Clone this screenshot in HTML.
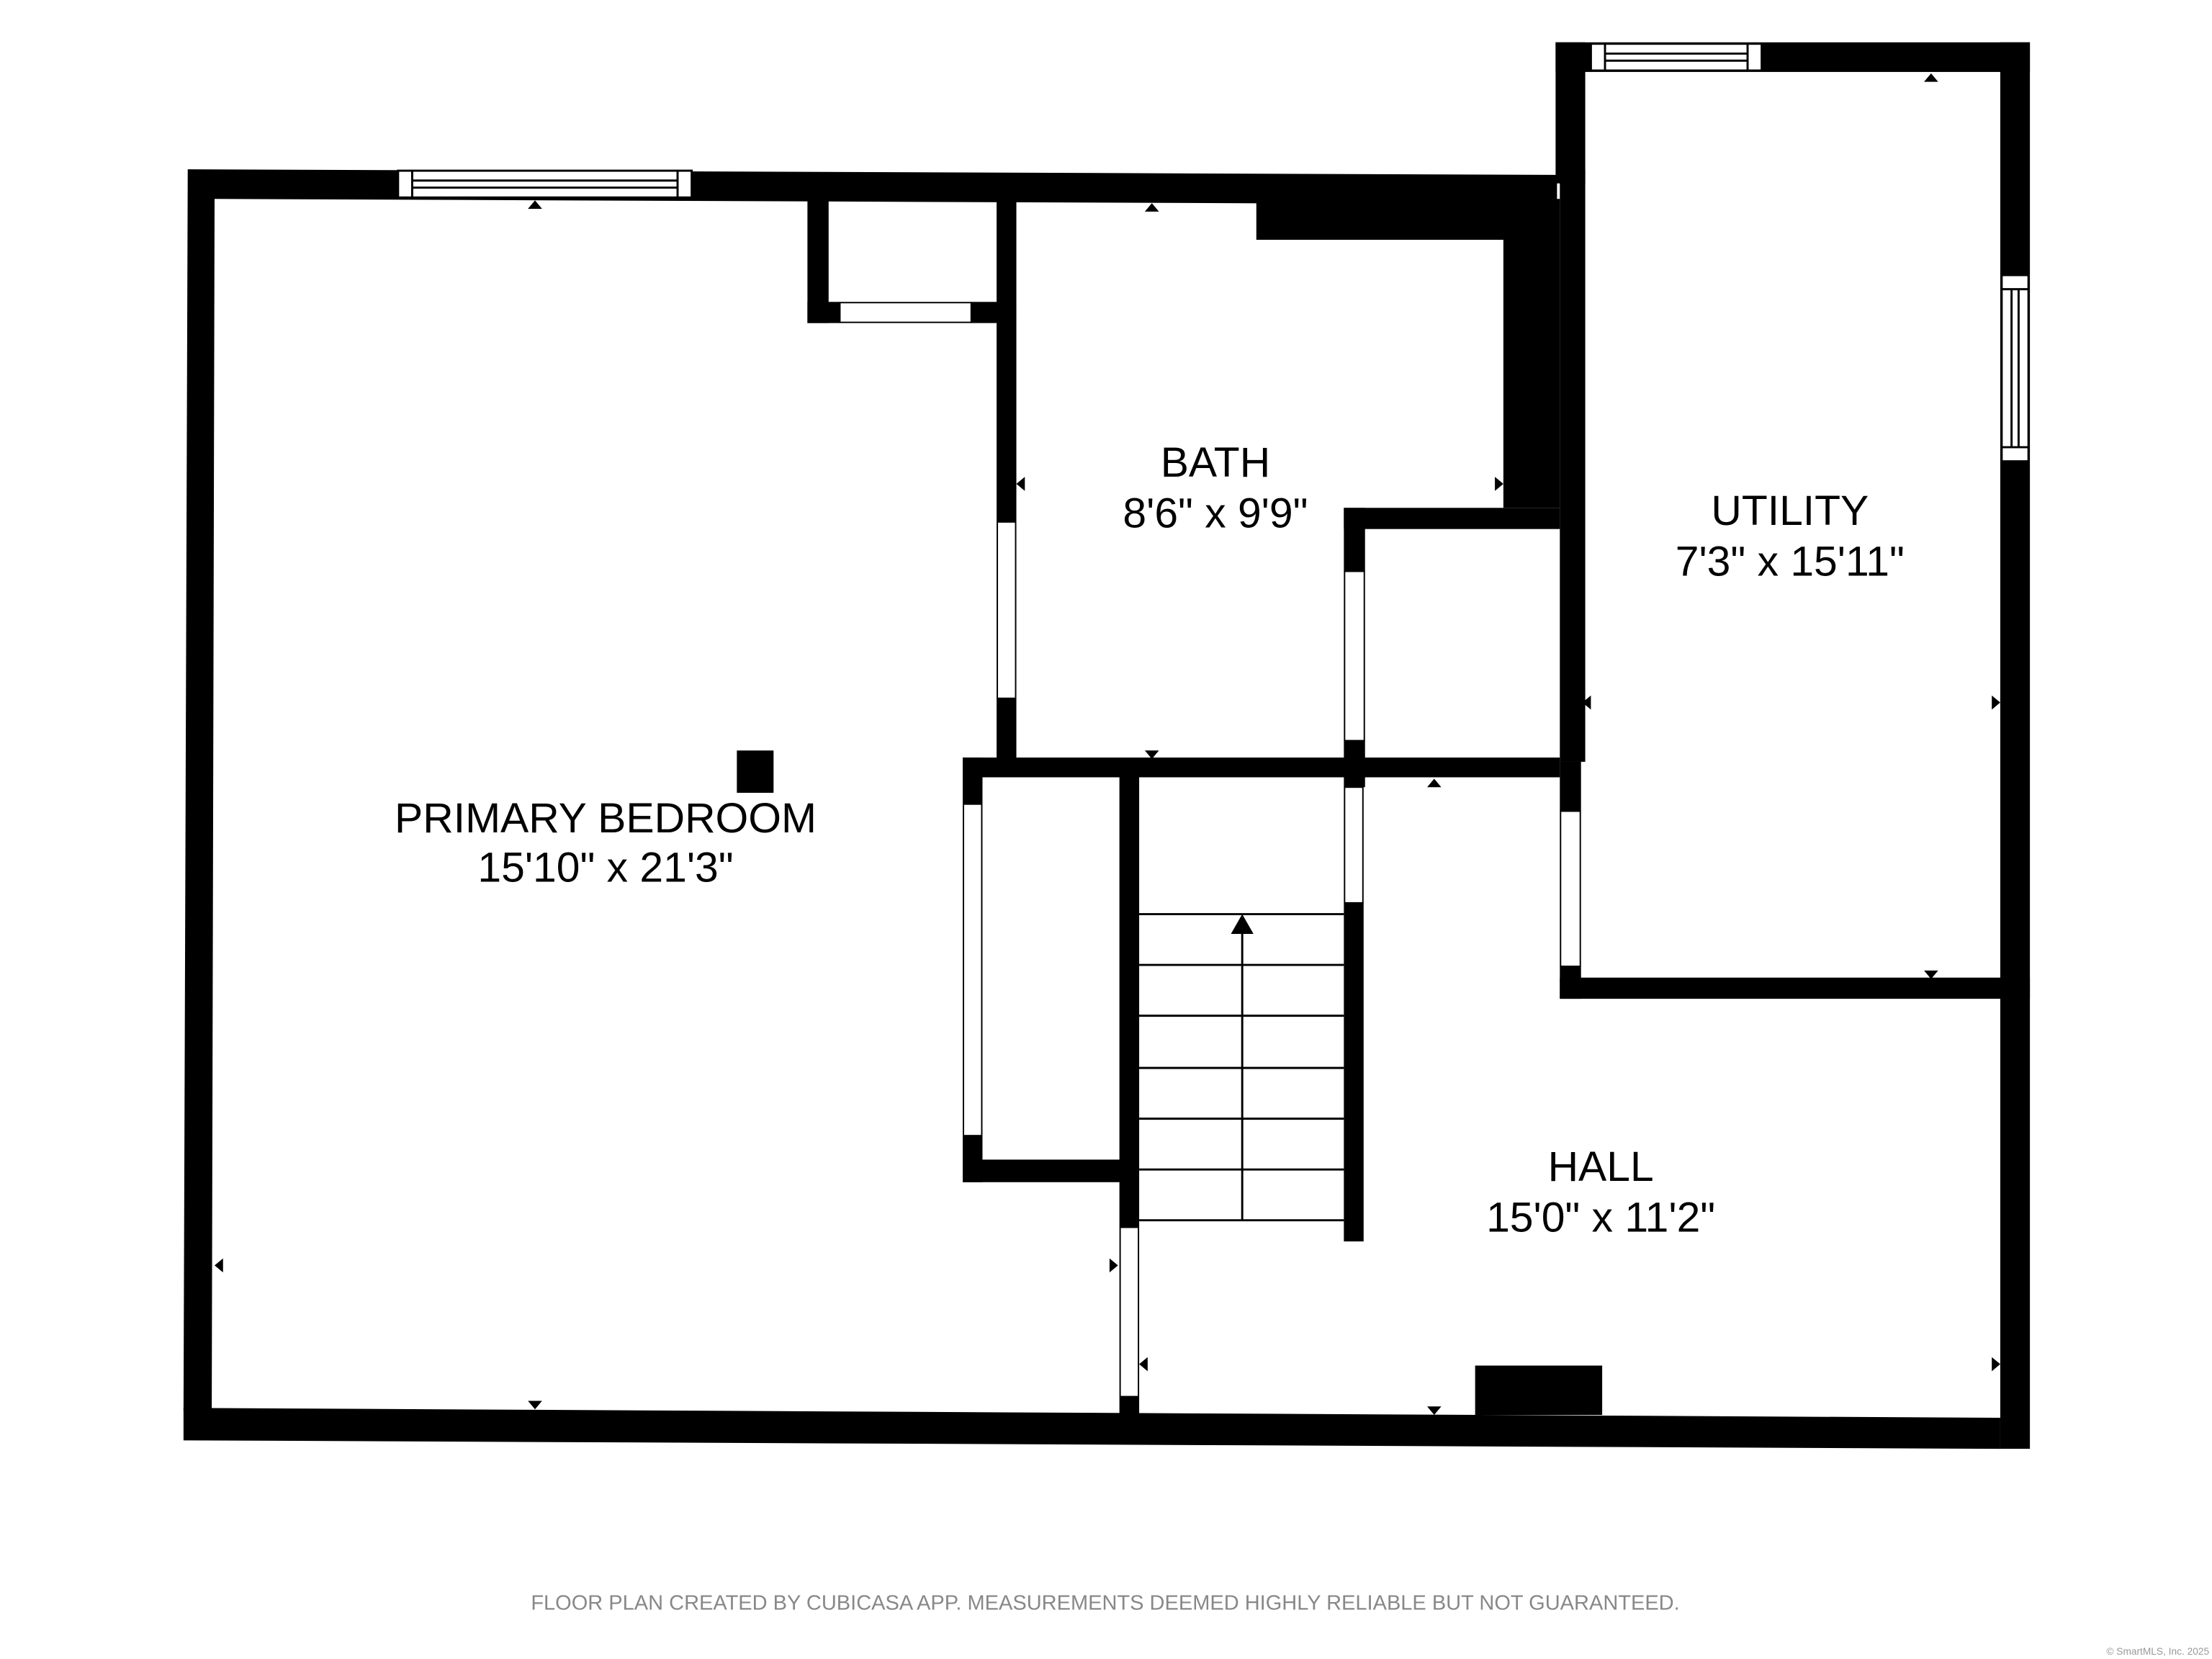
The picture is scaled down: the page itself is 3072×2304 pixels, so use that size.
<!DOCTYPE html>
<html><head><meta charset="utf-8"><style>
html,body{margin:0;padding:0;background:#fff;}
svg{display:block;}
text{font-family:"Liberation Sans",sans-serif;}
</style></head><body>
<svg width="3072" height="2304" viewBox="0 0 1567 1176" preserveAspectRatio="none" xmlns="http://www.w3.org/2000/svg">
<rect width="1567" height="1176" fill="#fff"/>
<g fill="#000">
<polygon points="133,120 1103,124 1103,145 152,141 150,1000 130,1000"/>
<polygon points="130,998 1417,1005 1417,1027 130,1021"/>
<rect x="1102" y="30" width="336" height="21"/>
<rect x="1102" y="30" width="21" height="100"/>
<rect x="1417" y="30" width="21" height="997"/>
<polygon points="890,141 1105,141 1105,360 1065,360 1065,170 890,170"/>
<rect x="1105" y="120" width="18" height="420"/>
<rect x="572" y="141" width="15" height="88"/>
<rect x="572" y="214" width="23" height="15"/>
<rect x="688" y="214" width="32" height="15"/>
<rect x="706" y="141" width="14" height="229"/>
<rect x="706" y="495" width="14" height="50"/>
<rect x="682" y="537" width="423" height="14"/>
<rect x="952" y="360" width="153" height="15"/>
<rect x="952" y="360" width="15" height="45"/>
<rect x="952" y="525" width="15" height="33"/>
<rect x="1105" y="540" width="15" height="35"/>
<rect x="1105" y="685" width="15" height="23"/>
<rect x="1105" y="693" width="333" height="15"/>
<rect x="952" y="640" width="14" height="240"/>
<rect x="793" y="545" width="14" height="325"/>
<rect x="793" y="990" width="14" height="20"/>
<rect x="682" y="537" width="14" height="33"/>
<rect x="682" y="805" width="14" height="33"/>
<rect x="682" y="822" width="118" height="16"/>
<rect x="522" y="532" width="26" height="30"/>
<rect x="1045" y="968" width="90" height="35"/>
</g>
<!-- door openings -->
<g fill="#fff" stroke="#000" stroke-width="1">
<rect x="595" y="214.5" width="93" height="14"/>
<rect x="706.5" y="370" width="13" height="125"/>
<rect x="952.5" y="405" width="14" height="120"/>
<rect x="952.5" y="558" width="13" height="82"/>
<rect x="1105.5" y="575" width="14" height="110"/>
<rect x="682.5" y="570" width="13" height="235"/>
<rect x="793.5" y="870" width="13" height="120"/>
</g>
<g fill="#fff" stroke="#000" stroke-width="1.5">
<rect x="282" y="121" width="208" height="19"/>
<line x1="292" y1="128" x2="480" y2="128"/><line x1="292" y1="133" x2="480" y2="133"/>
<line x1="292" y1="121" x2="292" y2="140"/><line x1="480" y1="121" x2="480" y2="140"/>
<rect x="1127" y="31" width="121" height="19"/>
<line x1="1137" y1="38" x2="1238" y2="38"/><line x1="1137" y1="43" x2="1238" y2="43"/>
<line x1="1137" y1="31" x2="1137" y2="50"/><line x1="1238" y1="31" x2="1238" y2="50"/>
<rect x="1418" y="195" width="19" height="132"/>
<line x1="1425" y1="205" x2="1425" y2="317"/><line x1="1430" y1="205" x2="1430" y2="317"/>
<line x1="1418" y1="205" x2="1437" y2="205"/><line x1="1418" y1="317" x2="1437" y2="317"/>
</g>
<g stroke="#000" stroke-width="1.5">
<line x1="807" y1="648" x2="952" y2="648"/><line x1="807" y1="684" x2="952" y2="684"/>
<line x1="807" y1="720" x2="952" y2="720"/><line x1="807" y1="757" x2="952" y2="757"/>
<line x1="807" y1="793" x2="952" y2="793"/><line x1="807" y1="829" x2="952" y2="829"/>
<line x1="807" y1="865" x2="952" y2="865"/>
<line x1="880" y1="865" x2="880" y2="660"/>
</g>
<polygon points="872,662 888,662 880,648" fill="#000"/>
<g fill="#000">
<polygon points="374,148 384,148 379,142"/>
<polygon points="811,150 821,150 816,144"/>
<polygon points="1363,58 1373,58 1368,52"/>
<polygon points="374,993 384,993 379,999"/>
<polygon points="811,532 821,532 816,538"/>
<polygon points="1011,558 1021,558 1016,552"/>
<polygon points="1363,688 1373,688 1368,694"/>
<polygon points="1011,997 1021,997 1016,1003"/>
<polygon points="158,892 158,902 152,897"/>
<polygon points="786,892 786,902 792,897"/>
<polygon points="726,338 726,348 720,343"/>
<polygon points="1059,338 1059,348 1065,343"/>
<polygon points="1127,493 1127,503 1121,498"/>
<polygon points="1411,493 1411,503 1417,498"/>
<polygon points="813,962 813,972 807,967"/>
<polygon points="1411,962 1411,972 1417,967"/>
</g>
<g font-size="30" fill="#000" text-anchor="middle">
<text x="861" y="338">BATH</text>
<text x="861" y="374">8'6" x 9'9"</text>
<text x="1268" y="372">UTILITY</text>
<text x="1268" y="408">7'3" x 15'11"</text>
<text x="429" y="590">PRIMARY BEDROOM</text>
<text x="429" y="625">15'10" x 21'3"</text>
<text x="1134" y="837">HALL</text>
<text x="1134" y="873">15'0" x 11'2"</text>
</g>
<text x="783" y="1141" font-size="14.8" fill="#888" text-anchor="middle">FLOOR PLAN CREATED BY CUBICASA APP. MEASUREMENTS DEEMED HIGHLY RELIABLE BUT NOT GUARANTEED.</text>
<text x="1565" y="1173" font-size="7" fill="#999" text-anchor="end">© SmartMLS, Inc. 2025</text>
</svg>
</body></html>
